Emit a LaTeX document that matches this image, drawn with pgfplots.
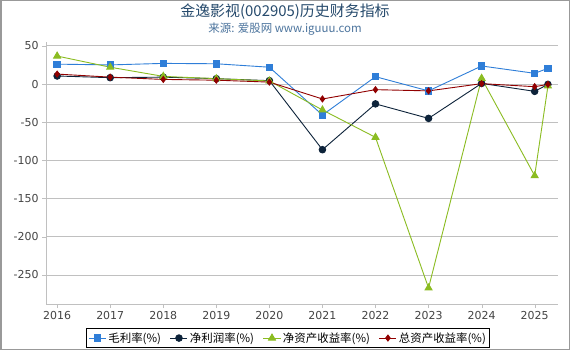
\documentclass[border=0pt]{standalone}
\usepackage{pgfplots}
\pgfplotsset{compat=1.18}
\usepackage{fontspec}
\setmainfont{DejaVu Sans}
\newfontfamily\cjk{Noto Sans CJK SC}
\definecolor{cblue}{HTML}{2F7ED8}
\definecolor{cdark}{HTML}{0D233A}
\definecolor{cgreen}{HTML}{8BBC21}
\definecolor{cred}{HTML}{910000}
\definecolor{ctitle}{HTML}{274B6D}
\definecolor{csub}{HTML}{4D759E}
\definecolor{cgrid}{HTML}{C0C0C0}
\definecolor{ctick}{HTML}{444444}
\begin{document}
\begin{tikzpicture}[x=1bp,y=1bp]
\fill[white] (0,0) rectangle (570,350);
\draw[gray!80,line width=1.5bp] (0.75,0.75) rectangle (569.25,349.25);
\node[font=\cjk\fontsize{15}{17}\selectfont,text=ctitle] at (285,338.5) {金逸影视(002905)历史财务指标};
\node[font=\cjk\fontsize{11.5}{13}\selectfont,text=csub] at (285,321) {来源: 爱股网 www.iguuu.com};
\begin{axis}[
  at={(46bp,46bp)}, anchor=south west,
  scale only axis, width=512bp, height=262bp,
  xmin=2015.79, xmax=2025.44,
  ymin=-288, ymax=55,
  xtick={2016,2017,2018,2019,2020,2021,2022,2023,2024,2025},
  ytick={50,0,-50,-100,-150,-200,-250},
  xticklabel style={/pgf/number format/1000 sep={}},
  /pgf/number format/assume math mode=true,
  ticklabel style={font=\fontsize{11}{12}\selectfont, text=ctick},
  axis x line*=bottom, axis y line*=left,
  axis line style={cgrid},
  x axis line style={-}, y axis line style={-},
  tick style={cgrid},
  tick align=outside,
  major tick length=4bp,
  ymajorgrids, grid style={cgrid, line width=0.8bp},
  legend style={at={(0.473,-0.13)}, anchor=center, legend columns=-1, draw=black, line width=0.8bp,
    font=\cjk\fontsize{11.5}{13}\selectfont, /tikz/every even column/.append style={column sep=7bp},
    inner sep=1.8bp},
  legend cell align=left,
  clip=false,
]
\addplot[cblue, line width=0.9bp, mark=square*, mark size=3.2bp, mark options={solid, fill=cblue}] coordinates {
 (2016,26) (2017,25) (2018,27) (2019,26.5) (2020,22) (2021,-40.6) (2022,9.6) (2023,-9) (2024,23.6) (2025,14) (2025.25,20.5)};
\addlegendentry{毛利率(\%)}
\addplot[cdark, line width=0.9bp, mark=*, mark size=3.3bp, mark options={solid, fill=cdark}] coordinates {
 (2016,10.5) (2017,8.3) (2018,9) (2019,7) (2020,4.4) (2021,-86) (2022,-26) (2023,-45) (2024,0.8) (2025,-9.6) (2025.25,-0.5)};
\addlegendentry{净利润率(\%)}
\addplot[cgreen, line width=0.9bp, mark=triangle*, mark size=4bp, mark options={solid, fill=cgreen}] coordinates {
 (2016,36.6) (2017,22) (2018,10) (2019,7) (2020,4) (2021,-34) (2022,-69.8) (2023,-267) (2024,7.4) (2025,-120) (2025.25,-2.6)};
\addlegendentry{净资产收益率(\%)}
\addplot[cred, line width=0.9bp, mark=diamond*, mark size=3bp, mark options={solid, fill=cred}] coordinates {
 (2016,13) (2017,9) (2018,6) (2019,5) (2020,2.5) (2021,-19.6) (2022,-7.4) (2023,-9) (2024,0.5) (2025,-3.5) (2025.25,-0.5)};
\addlegendentry{总资产收益率(\%)}
\end{axis}
\end{tikzpicture}
\end{document}
